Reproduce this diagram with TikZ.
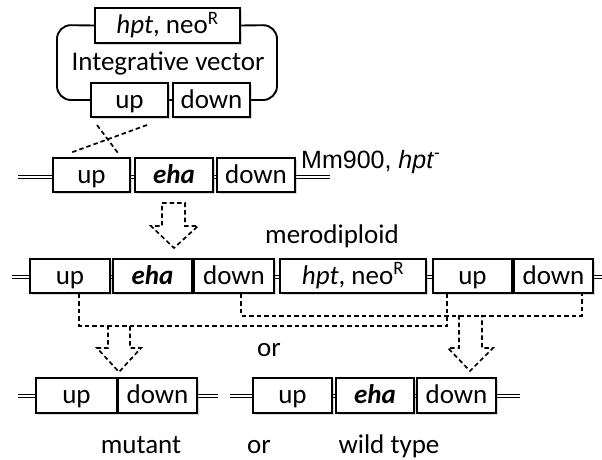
\documentclass[tikz,border=0pt]{standalone}
\usepackage{fontspec}
\setmainfont{Carlito}
\newfontfamily\arialfont{Liberation Sans}
\usetikzlibrary{shadows}
\pgfdeclarelayer{bg}
\pgfsetlayers{bg,main}
\tikzset{
  gene/.style={draw, line width=1.9pt, fill=white, minimum height=34pt, inner sep=0pt,
    text height=21pt, text depth=5pt, font=\fontsize{27}{32}\selectfont,
    drop shadow={shadow xshift=1.5pt, shadow yshift=-1.5pt, opacity=0.3}},
  dna/.style={draw, line width=1.6pt, double distance=1.6pt},
  dsh/.style={line width=1.7pt, dash pattern=on 4.5pt off 3pt},
  blockarrow/.style={dsh, line join=miter},
  lbl/.style={font=\fontsize{27}{32}\selectfont, inner sep=0pt, anchor=base},
}
\newcommand{\hptneo}{\textit{hpt}, neo\textsuperscript{R}}
\begin{document}
\begin{tikzpicture}[x=1pt,y=-1pt]
\useasboundingbox (0,0) rectangle (602,459);

% ---------- integrative vector ----------
\node[gene, minimum width=145pt, minimum height=35pt] (vhpt) at (167.5,25.5) {\hptneo};
\node[gene, minimum width=77pt] (vup) at (129.5,100) {up};
\node[gene, minimum width=77pt] (vdown) at (211.5,100) {down};
\node[lbl] (vlabel) at (168,70) {Integrative vector};
\coordinate (vtl) at (57,25);
\coordinate (vbl) at (57,100);
\coordinate (vtr) at (277,25);
\coordinate (vbr) at (277,100);
\begin{pgfonlayer}{bg}
\draw[line width=1.9pt, rounded corners=14pt] (vhpt.west) -- (vtl) -- (vbl) -- (vup.west);
\draw[line width=1.9pt, rounded corners=14pt] (vhpt.east) -- (vtr) -- (vbr) -- (vdown.east);
\draw[line width=1.9pt] (vup.east) -- (vdown.west);
\end{pgfonlayer}

% crossover
\coordinate (c1a) at (97,125);
\coordinate (c1b) at (118,153);
\coordinate (c2a) at (147,125);
\coordinate (c2b) at (70,153);
\draw[dsh] (c1a) -- (c1b);
\draw[dsh] (c2a) -- (c2b);

% ---------- Mm900 chromosome ----------
\node[gene, minimum width=77pt] (aup) at (91.5,175) {up};
\node[gene, minimum width=78pt] (aeha) at (174,175) {\textbf{\textit{eha}}};
\node[gene, minimum width=78pt] (adown) at (256,175) {down};
\coordinate (al) at (18,177);
\coordinate (ar) at (330,177);
\begin{pgfonlayer}{bg}
\draw[dna] (al) -- (ar);
\end{pgfonlayer}
\node[anchor=base west, inner sep=0pt, font=\arialfont\fontsize{25}{29}\selectfont] (mm) at (301,168) {Mm900, \textit{hpt}\textsuperscript{-}};

% arrow 1
\draw[blockarrow] (162,203) -- (185,203) -- (185,226) -- (198,226) -- (174,248) -- (151,226) -- (162,226) -- cycle;

\node[lbl] (mero) at (332,243) {merodiploid};

% ---------- merodiploid ----------
\node[gene, minimum width=80pt] (mup1) at (70,276) {up};
\node[gene, minimum width=79pt] (meha) at (152.5,276) {\textbf{\textit{eha}}};
\node[gene, minimum width=80pt] (mdown1) at (234,276) {down};
\node[gene, minimum width=146pt] (mhpt) at (353,276) {\hptneo};
\node[gene, minimum width=79pt] (mup2) at (472.5,276) {up};
\node[gene, minimum width=79pt] (mdown2) at (553.5,276) {down};
\coordinate (ml) at (12,277);
\coordinate (mr) at (602,277);
\begin{pgfonlayer}{bg}
\draw[dna] (ml) -- (mr);
\end{pgfonlayer}

% recombination paths
\draw[dsh] ([xshift=9pt]mup1.south) -- ++(0,32) -| (mup2.south -| 447,0);
\draw[dsh] ([xshift=7pt]mdown1.south) -- ++(0,22) -| ([xshift=28.5pt]mdown2.south);

% arrows to products
\draw[blockarrow] (108,325) -- (108,348) -- (97,348) -- (119,372) -- (141,348) -- (130,348) -- (130,325);
\draw[blockarrow] (459,315) -- (459,348) -- (448,348) -- (470,371) -- (493,348) -- (482,348) -- (482,315);

\node[lbl] (or1) at (269,356) {or};

% ---------- mutant ----------
\node[gene, minimum width=81pt, minimum height=35pt] (tup) at (76.5,395.5) {up};
\node[gene, minimum width=79pt, minimum height=35pt] (tdown) at (157.5,395.5) {down};
\coordinate (tl) at (18,396);
\coordinate (tr) at (218,396);
\begin{pgfonlayer}{bg}
\draw[dna] (tl) -- (tr);
\end{pgfonlayer}

% ---------- wild type ----------
\node[gene, minimum width=79pt, minimum height=35pt] (wup) at (292.5,395.5) {up};
\node[gene, minimum width=78pt, minimum height=35pt] (weha) at (375,395.5) {\textbf{\textit{eha}}};
\node[gene, minimum width=79pt, minimum height=35pt] (wdown) at (456.5,395.5) {down};
\coordinate (wl) at (230,396);
\coordinate (wr) at (520,396);
\begin{pgfonlayer}{bg}
\draw[dna] (wl) -- (wr);
\end{pgfonlayer}

\node[lbl] (mut) at (141,453) {mutant};
\node[lbl] (or2) at (259,453) {or};
\node[lbl] (wt) at (389,453) {wild type};
\end{tikzpicture}
\end{document}
